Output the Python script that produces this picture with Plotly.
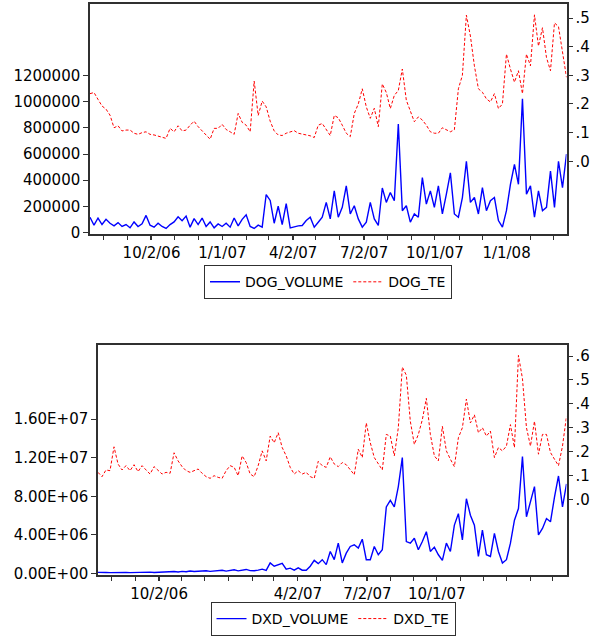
import pandas as pd
import plotly.graph_objects as go

# ---------------- data ----------------
top_start, top_end = "2006-07-15", "2008-03-18"
bot_start, bot_end = "2006-07-14", "2008-03-19"

dog_te = [
    .236, .240, .216, .193, .182, .161, .117, .124, .106, .109,
    .109, .098, .094, .100, .103, .094, .092, .089, .084, .080,
    .115, .103, .124, .106, .109, .126, .140, .121, .106, .092,
    .077, .115, .115, .129, .111, .103, .094, .167, .136, .126,
    .103, .280, .160, .210, .190, .140, .106, .092, .090, .098,
    .103, .107, .098, .095, .092, .089, .083, .126, .132, .113,
    .090, .160, .152, .126, .098, .086, .167, .200, .253, .190,
    .150, .185, .121, .270, .240, .184, .230, .247, .322, .213,
    .175, .138, .155, .144, .126, .103, .098, .098, .117, .109,
    .103, .110, .253, .300, .510, .437, .333, .253, .241, .218,
    .207, .236, .184, .200, .374, .322, .276, .316, .236, .374,
    .333, .511, .402, .466, .362, .316, .483, .470, .379, .293,
]

dog_volume = [
    116000, 55000, 110000, 60000, 100000, 70000, 50000, 75000, 45000, 60000,
    35000, 80000, 45000, 65000, 130000, 55000, 40000, 70000, 45000, 30000,
    60000, 80000, 120000, 90000, 125000, 40000, 105000, 60000, 110000, 45000,
    80000, 35000, 65000, 45000, 70000, 40000, 110000, 50000, 100000, 135000,
    45000, 30000, 55000, 40000, 290000, 245000, 70000, 200000, 60000, 220000,
    35000, 45000, 50000, 53000, 91000, 116000, 40000, 78000, 116000, 230000,
    103000, 318000, 116000, 192000, 356000, 141000, 204000, 103000, 40000, 78000,
    230000, 103000, 53000, 340000, 230000, 305000, 242000, 830000, 166000, 204000,
    78000, 141000, 116000, 420000, 217000, 318000, 192000, 356000, 141000, 293000,
    456000, 141000, 116000, 267000, 545000, 230000, 267000, 141000, 343000, 166000,
    242000, 267000, 91000, 40000, 166000, 368000, 520000, 368000, 1024000, 293000,
    356000, 116000, 318000, 166000, 192000, 469000, 192000, 545000, 343000, 600000,
]

dxd_te = [
    .113, .095, .123, .120, .220, .148, .123, .141, .120, .145,
    .116, .141, .123, .106, .137, .120, .106, .113, .109, .195,
    .161, .137, .120, .113, .120, .127, .109, .095, .088, .099,
    .092, .088, .120, .141, .134, .099, .182, .154, .106, .095,
    .141, .203, .161, .265, .237, .279, .217, .182, .134, .106,
    .120, .106, .113, .095, .088, .159, .141, .134, .178, .148,
    .137, .154, .145, .123, .103, .210, .175, .320, .237, .175,
    .148, .123, .272, .265, .182, .300, .554, .520, .327, .230,
    .272, .334, .423, .272, .182, .161, .306, .203, .168, .137,
    .258, .300, .420, .320, .354, .279, .300, .265, .286, .175,
    .217, .203, .223, .313, .217, .603, .506, .300, .223, .327,
    .189, .272, .272, .196, .168, .141, .223, .348,
]

dxd_volume = [
    120000, 80000, 100000, 90000, 110000, 80000, 100000, 120000, 90000, 110000,
    100000, 120000, 100000, 140000, 110000, 130000, 150000, 120000, 170000, 200000,
    150000, 220000, 180000, 250000, 200000, 230000, 210000, 280000, 220000, 260000,
    230000, 330000, 250000, 300000, 380000, 270000, 320000, 420000, 300000, 280000,
    350000, 450000, 320000, 1100000, 750000, 900000, 1050000, 450000, 550000, 350000,
    580000, 340000, 340000, 750000, 1360000, 1020000, 1430000, 920000, 2280000, 1430000,
    3140000, 1090000, 2110000, 2800000, 2970000, 2630000, 3550000, 1430000, 1430000, 2800000,
    1940000, 2460000, 6890000, 7570000, 6890000, 9000000, 12000000, 3310000, 3140000, 3650000,
    2460000, 3310000, 4330000, 2280000, 2730000, 1940000, 1360000, 3140000, 2280000, 5010000,
    6200000, 3480000, 7740000, 6040000, 5010000, 1770000, 4500000, 1940000, 1770000, 4160000,
    2280000, 1090000, 1430000, 3140000, 5520000, 6720000, 12100000, 5870000, 7570000, 9000000,
    3990000, 4670000, 5690000, 5350000, 7910000, 10100000, 6900000, 9280000,
]

top_tick_dates = ["2006-10-02", "2007-01-01", "2007-04-02", "2007-07-02", "2007-10-01", "2008-01-01"]
top_tick_text = ["10/2/06", "1/1/07", "4/2/07", "7/2/07", "10/1/07", "1/1/08"]
bot_tick_dates = ["2006-10-02", "2007-04-02", "2007-07-02", "2007-10-01"]
bot_tick_text = ["10/2/06", "4/2/07", "7/2/07", "10/1/07"]

dog_vol_ticks = [0, 200000, 400000, 600000, 800000, 1000000, 1200000]
dog_vol_text = ["0", "200000", "400000", "600000", "800000", "1000000", "1200000"]
dog_te_ticks = [0, .1, .2, .3, .4, .5]
dog_te_text = [".0", ".1", ".2", ".3", ".4", ".5"]
dxd_vol_ticks = [0, 4e6, 8e6, 1.2e7, 1.6e7]
dxd_vol_text = ["0.00E+00", "4.00E+06", "8.00E+06", "1.20E+07", "1.60E+07"]
dxd_te_ticks = [0, .1, .2, .3, .4, .5, .6]
dxd_te_text = [".0", ".1", ".2", ".3", ".4", ".5", ".6"]

# ---------------- figure ----------------
dates_top = pd.date_range(top_start, top_end, periods=len(dog_te))
dates_bot = pd.date_range(bot_start, bot_end, periods=len(dxd_te))

BLUE = "#0000FF"
RED = "#FF0000"
AX = "#303030"
FONT = dict(family="DejaVu Sans", size=15, color="black")
LFONT = dict(family="DejaVu Sans", size=14, color="black")

fig = go.Figure()
fig.add_trace(go.Scatter(x=dates_top, y=dog_volume, name="DOG_VOLUME", mode="lines",
                         line=dict(color=BLUE, width=1.4), xaxis="x", yaxis="y", legend="legend"))
fig.add_trace(go.Scatter(x=dates_top, y=dog_te, name="DOG_TE", mode="lines",
                         line=dict(color=RED, width=1, dash="3px,2px"), xaxis="x", yaxis="y2", legend="legend"))
fig.add_trace(go.Scatter(x=dates_bot, y=dxd_volume, name="DXD_VOLUME", mode="lines",
                         line=dict(color=BLUE, width=1.4), xaxis="x2", yaxis="y3", legend="legend2"))
fig.add_trace(go.Scatter(x=dates_bot, y=dxd_te, name="DXD_TE", mode="lines",
                         line=dict(color=RED, width=1, dash="3px,2px"), xaxis="x2", yaxis="y4", legend="legend2"))

W, H = 597, 642


def xd(a, b):
    return [a / W, b / W]


def yd(top, bottom):
    return [1 - bottom / H, 1 - top / H]


minor = dict(ticks="outside", ticklen=5, tickcolor=AX, dtick="M1", tick0="2006-08-01", showgrid=False)
xcommon = dict(type="date", showgrid=False, zeroline=False, showline=True, mirror=True,
               linecolor=AX, linewidth=1.5, ticks="outside", ticklen=5, tickcolor=AX,
               tickfont=FONT, minor=minor)
ycommon = dict(showgrid=False, zeroline=False, ticks="outside", ticklen=5, tickcolor=AX, tickfont=FONT)

fig.update_layout(
    width=W, height=H,
    margin=dict(l=0, r=0, t=0, b=0),
    paper_bgcolor="white", plot_bgcolor="white",
    font=FONT,
    xaxis=dict(domain=xd(90, 566.5), anchor="y", range=[top_start, top_end],
               tickvals=top_tick_dates, ticktext=top_tick_text, **xcommon),
    yaxis=dict(domain=yd(4, 236.5), anchor="x", range=[-9000, 1750000],
               tickvals=dog_vol_ticks, ticktext=dog_vol_text,
               showline=True, mirror=True, linecolor=AX, linewidth=1.5, **ycommon),
    yaxis2=dict(overlaying="y", side="right", anchor="x", range=[-0.252, 0.549],
                tickvals=dog_te_ticks, ticktext=dog_te_text, showline=False, **ycommon),
    xaxis2=dict(domain=xd(98, 566.5), anchor="y3", range=[bot_start, bot_end],
                tickvals=bot_tick_dates, ticktext=bot_tick_text, **xcommon),
    yaxis3=dict(domain=yd(349, 582), anchor="x2", range=[-1.3e5, 2.37e7],
                tickvals=dxd_vol_ticks, ticktext=dxd_vol_text,
                showline=True, mirror=True, linecolor=AX, linewidth=1.5, **ycommon),
    yaxis4=dict(overlaying="y3", side="right", anchor="x2", range=[-0.316, 0.648],
                tickvals=dxd_te_ticks, ticktext=dxd_te_text, showline=False, **ycommon),
    legend=dict(orientation="h", x=328 / W, y=1 - 303 / H, xanchor="center", yanchor="bottom",
                bordercolor=AX, borderwidth=1, bgcolor="white", font=LFONT,
                itemwidth=30, tracegroupgap=0),
    legend2=dict(orientation="h", x=333 / W, y=1 - 644 / H, xanchor="center", yanchor="bottom",
                 bordercolor=AX, borderwidth=1, bgcolor="white", font=LFONT,
                 itemwidth=30, tracegroupgap=0),
    showlegend=True,
)

fig.write_html("out.html")
